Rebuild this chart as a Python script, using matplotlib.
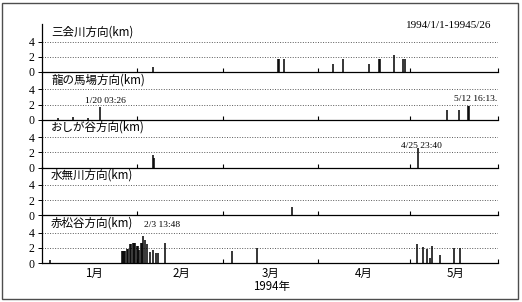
import matplotlib
matplotlib.use('Agg')
import matplotlib.pyplot as plt
from matplotlib.patches import Rectangle

plt.rcParams['font.family'] = ['Noto Sans CJK JP', 'DejaVu Sans']

# ---- data (day 0 = 1994/1/1) ----
titles = ['三会川方向(km)', '龍の馬場方向(km)', 'おしが谷方向(km)', '水無川方向(km)', '赤松谷方向(km)']

sankai_days = [36.2, 77.1, 77.4, 78.9, 94.8, 98.3, 106.7, 110.0, 110.3, 114.9, 117.8, 118.3]
sankai_h = [0.6, 1.7, 1.7, 1.7, 1.1, 1.7, 1.1, 1.7, 1.7, 2.2, 1.7, 1.7]

ryunobaba_days = [5.2, 10.0, 15.0, 19.1, 132.0, 136.0, 138.9, 139.1]
ryunobaba_h = [0.2, 0.4, 0.2, 1.7, 1.3, 1.3, 1.8, 1.8]

oshigatani_days = [36.2, 36.7, 122.6]
oshigatani_h = [1.7, 1.2, 2.6]

mizunashi_days = [81.5]
mizunashi_h = [1.1]

akamatsu_days = [2.7, 26.0, 26.3, 26.8, 27.1, 27.6, 28.1, 28.7, 29.2, 29.6, 30.0, 30.5,
                 30.9, 31.3, 31.8, 32.2, 32.5, 33.1, 33.6, 34.4, 35.2, 36.3, 37.1, 38.0,
                 40.1, 61.9, 70.1, 122.4, 124.4, 125.5, 126.5, 127.1, 129.8, 134.5, 136.3]
akamatsu_h = [0.4, 1.6, 1.6, 1.6, 1.6, 1.9, 1.9, 2.5, 2.5, 2.7, 2.7, 2.7,
              2.3, 2.3, 1.7, 2.7, 2.7, 3.6, 3.0, 2.5, 1.5, 1.7, 1.3, 1.3,
              2.6, 1.6, 2.0, 2.5, 2.1, 1.8, 0.6, 2.3, 1.0, 2.0, 2.0]

series_days = [sankai_days, ryunobaba_days, oshigatani_days, mizunashi_days, akamatsu_days]
series_h = [sankai_h, ryunobaba_h, oshigatani_h, mizunashi_h, akamatsu_h]

# annotations: (panel, day, km, text, ha)
annotations = [(1, 20.6, 2.5, '1/20 03:26', 'center'),
               (1, 148.4, 2.7, '5/12 16:13.', 'right'),
               (2, 123.9, 2.8, '4/25 23:40', 'center'),
               (4, 39.2, 5.0, '2/3 13:48', 'center')]

month_bounds = [0, 31, 59, 90, 120]
x_end = 148.7
month_label_pos = [17, 45.5, 74.5, 105, 135]
month_labels = ['1月', '2月', '3月', '4月', '5月']
yticks = [0, 2, 4]
period_text = '1994/1/1-19945/26'
xlabel_text = '1994年'

# ---- layout ----
W, H = 522, 302
fig = plt.figure(figsize=(W / 100, H / 100), dpi=100)
fig.patch.set_facecolor('white')

left_px, right_px = 41.9, 498
baselines = [72, 119.7, 167.5, 215.2, 263]
ph = 47.75
ymax = 6.3
serif = 'Liberation Serif'

axes = []
for i in range(5):
    b = baselines[i]
    ax = fig.add_axes([left_px / W, 1 - b / H, (right_px - left_px) / W, ph / H])
    ax.set_facecolor('none')
    axes.append(ax)
    ax.set_xlim(0, x_end)
    ax.set_ylim(0, ymax)
    for s in ['top', 'right']:
        ax.spines[s].set_visible(False)
    ax.spines['left'].set_linewidth(0.9)
    ax.spines['bottom'].set_linewidth(0.9)
    for g in [2, 4]:
        ax.axhline(g, color='0.35', lw=0.7, ls=(0, (1, 1.6)), zorder=1)
    ax.vlines(series_days[i], 0, series_h[i], color='black', lw=1.1, zorder=3)
    ax.set_yticks(yticks)
    ax.set_yticklabels([str(t) for t in yticks], fontfamily=serif, fontsize=8.5)
    ax.tick_params(axis='y', direction='out', length=3, width=0.7, pad=2.5)
    ax.set_xticks(month_bounds[1:] + [x_end])
    ax.set_xticklabels([])
    ax.tick_params(axis='x', which='major', direction='in', length=3, width=0.8)
    ax.text(0.02, 0.84, titles[i], transform=ax.transAxes, ha='left', va='center', fontsize=8.3)

axes[0].text(0.985, 0.98, period_text, transform=axes[0].transAxes, ha='right', va='center',
             fontfamily=serif, fontsize=8)

for p, d, k, t, ha in annotations:
    axes[p].text(d, k, t, ha=ha, va='center', fontfamily=serif, fontsize=6.8, zorder=4)

last = axes[-1]
last.set_xticks(month_label_pos, minor=True)
last.set_xticklabels(month_labels, minor=True, fontsize=8.3)
last.tick_params(axis='x', which='minor', length=0, pad=3)
last.text(74.7, -3.15, xlabel_text, ha='center', va='center', fontsize=8.3)

fig.patches.append(Rectangle((2 / W, 3 / H), 516 / W, 296 / H, transform=fig.transFigure,
                             fill=False, edgecolor='0.3', lw=1.0))

fig.savefig('out.png', dpi=100)
